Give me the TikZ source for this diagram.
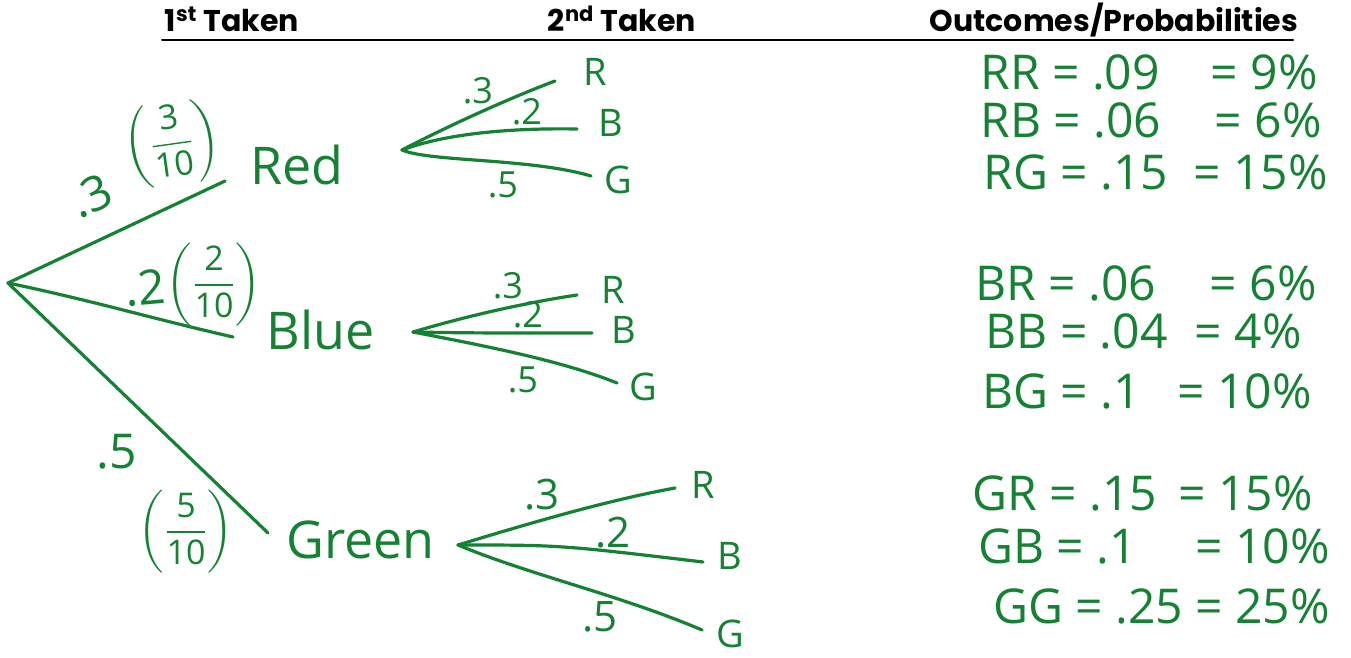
\documentclass[tikz,border=0pt]{standalone}
\usepackage{amsmath}
\usepackage{fontspec}
\setmainfont{Open Sans}
\newfontfamily\headfont{Poppins}
\definecolor{ink}{RGB}{20,130,50}
\begin{document}
\begin{tikzpicture}[x=0.5pt,y=-0.5pt,line cap=round,line join=round]
\tikzset{
 head/.style={text=black,font=\headfont\bfseries\fontsize{15}{18}\selectfont,inner sep=0,anchor=base},
 big/.style={font=\fontsize{26}{30}\selectfont,inner sep=0,text=ink},
 rootlbl/.style={font=\fontsize{24}{26}\selectfont,inner sep=0,text=ink},
 frac/.style={font=\fontsize{17}{19}\selectfont,inner sep=0,text=ink},
 lbl/.style={font=\fontsize{18}{20}\selectfont,inner sep=0,text=ink},
 leaf/.style={font=\fontsize{19}{21}\selectfont,inner sep=0,text=ink},
 branch/.style={draw=ink,line width=1.6pt},
 outl/.style={font=\fontsize{24}{28}\selectfont,inner sep=0,text=ink,anchor=base west},
 outr/.style={font=\fontsize{24}{28}\selectfont,inner sep=0,text=ink,anchor=base east},
}
\useasboundingbox (0,0) rectangle (1351,658);
\fill[white] (0,0) rectangle (1351,658);
% headers
\node[head] (h1) at (232,32) {1\textsuperscript{st} Taken};
\node[head] (h2) at (622,32) {2\textsuperscript{nd} Taken};
\node[head] (h3) at (1114,32) {Outcomes/Probabilities};
\coordinate (ulA) at (162,40);
\coordinate (ulB) at (1293,40);
\draw[black,line width=1pt] (ulA) -- (ulB);
% first stage
\coordinate (root) at (8,283);
\coordinate (rEnd) at (225,181);
\coordinate (bEnd) at (233,337);
\coordinate (gEnd) at (268,533);
\node[big,anchor=west] (red) at (250,165) {Red};
\node[big,anchor=west] (blue) at (266,330) {Blue};
\node[big,anchor=west] (green) at (286,540) {Green};
\draw[branch] (root) -- (rEnd);
\draw[branch] (root) .. controls (90,300) and (150,318) .. (bEnd);
\draw[branch] (root) -- (gEnd);
\node[rootlbl,rotate=25] (p1) at (91,196) {.3};
\node[frac,rotate=8] (f1) at (172,144) {$\left(\dfrac{\text{3}}{\text{10}}\right)$};
\node[rootlbl,rotate=5] (p2) at (145,288) {.2};
\node[frac] (f2) at (214,285) {$\left(\dfrac{\text{2}}{\text{10}}\right)$};
\node[rootlbl] (p3) at (117,452) {.5};
\node[frac] (f3) at (186,532) {$\left(\dfrac{\text{5}}{\text{10}}\right)$};
% second stage: Red
\coordinate (rf) at (402,150);
\coordinate (rR) at (555,81);
\coordinate (rB) at (577,129);
\coordinate (rG) at (591,176);
\draw[branch] (rf) .. controls (450,125) and (510,98) .. (rR);
\draw[branch] (rf) .. controls (450,132) and (520,128) .. (rB);
\draw[branch] (rf) .. controls (430,162) and (530,158) .. (rG);
\node[leaf] (rRl) at (595,72) {R};
\node[leaf] (rBl) at (611,123) {B};
\node[leaf] (rGl) at (618,180) {G};
\node[lbl] (r3) at (478,91) {.3};
\node[lbl] (r2) at (527,112) {.2};
\node[lbl] (r5) at (503,185) {.5};
% second stage: Blue
\coordinate (bf) at (413,332);
\coordinate (bR) at (577,295);
\coordinate (bB) at (592,333);
\coordinate (bG) at (617,383);
\draw[branch] (bf) .. controls (470,315) and (530,302) .. (bR);
\draw[branch] (bf) .. controls (470,333) .. (bB);
\draw[branch] (bf) .. controls (480,345) and (560,360) .. (bG);
\node[leaf] (bRl) at (613,290) {R};
\node[leaf] (bBl) at (624,330) {B};
\node[leaf] (bGl) at (643,387) {G};
\node[lbl] (b3) at (508,286) {.3};
\node[lbl] (b2) at (528,315) {.2};
\node[lbl] (b5) at (523,380) {.5};
% second stage: Green
\coordinate (gf) at (458,545);
\coordinate (gR) at (675,488);
\coordinate (gB) at (703,562);
\coordinate (gG) at (702,630);
\draw[branch] (gf) .. controls (540,520) and (610,500) .. (gR);
\draw[branch] (gf) .. controls (560,545) .. (gB);
\draw[branch] (gf) .. controls (530,575) and (620,595) .. (gG);
\node[leaf] (gRl) at (703,485) {R};
\node[leaf] (gBl) at (730,556) {B};
\node[leaf] (gGl) at (730,634) {G};
\node[lbl,font=\fontsize{21}{24}\selectfont] (g3) at (542,495) {.3};
\node[lbl,font=\fontsize{21}{24}\selectfont] (g2) at (613,533) {.2};
\node[lbl,font=\fontsize{21}{24}\selectfont] (g5) at (600,617) {.5};
% outcomes
\node[outl] (o1) at (980,90) {RR = .09};   \node[outr] (o1p) at (1318,90) {= 9\%};
\node[outl] (o2) at (980,138) {RB = .06};  \node[outr] (o2p) at (1322,138) {= 6\%};
\node[outl] (o3) at (983,190) {RG = .15};  \node[outr] (o3p) at (1328,190) {= 15\%};
\node[outl] (o4) at (975,300) {BR = .06};  \node[outr] (o4p) at (1317,300) {= 6\%};
\node[outl] (o5) at (985,348) {BB = .04};  \node[outr] (o5p) at (1302,348) {= 4\%};
\node[outl] (o6) at (982,408) {BG = .1};   \node[outr] (o6p) at (1312,408) {= 10\%};
\node[outl] (o7) at (972,510) {GR = .15};  \node[outr] (o7p) at (1313,510) {= 15\%};
\node[outl] (o8) at (978,563) {GB = .1};   \node[outr] (o8p) at (1330,563) {= 10\%};
\node[outl] (o9) at (993,623) {GG = .25};  \node[outr] (o9p) at (1330,623) {= 25\%};
\end{tikzpicture}
\end{document}
